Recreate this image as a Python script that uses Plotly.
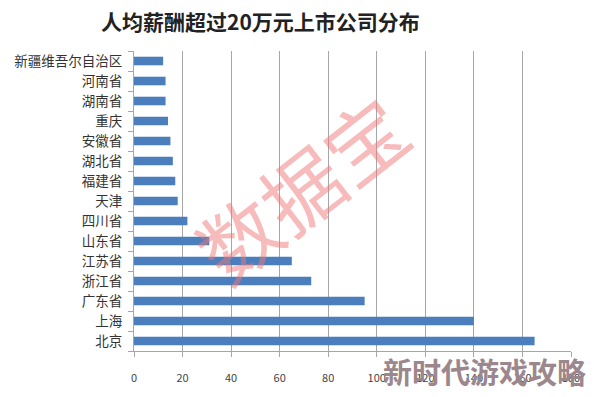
import plotly.graph_objects as go

provinces = ["北京", "上海", "广东省", "浙江省", "江苏省", "山东省", "四川省", "天津",
             "福建省", "湖北省", "安徽省", "重庆", "湖南省", "河南省", "新疆维吾尔自治区"]
counts = [165, 140, 95, 73, 65, 31, 22, 18, 17, 16, 15, 14, 13, 13, 12]
x_ticks = [0, 20, 40, 60, 80, 100, 120, 140, 160, 180]

title_text = "人均薪酬超过20万元上市公司分布"
font_cjk = "Noto Sans CJK SC"

L, R, T, B = 134, 23, 51, 44
W, H = 594, 397
plot_w = W - L - R
plot_h = H - T - B

def px_to_paper(px, py):
    return (px - L) / plot_w, (H - B - py) / plot_h

fig = go.Figure(go.Bar(
    x=counts, y=provinces, orientation="h",
    marker=dict(color="#4a7ebd", line=dict(width=0)),
    width=0.43,
))

tx, ty = px_to_paper(260, 21)
wx, wy = px_to_paper(300, 188)
bx, by = px_to_paper(484, 373)

fig.update_layout(
    width=W, height=H,
    margin=dict(l=L, r=R, t=T, b=B),
    paper_bgcolor="white", plot_bgcolor="white",
    showlegend=False,
    font=dict(family=font_cjk, color="#333333"),
    xaxis=dict(
        range=[0, 180], tickvals=x_ticks, ticktext=[str(v) for v in x_ticks],
        showgrid=True, gridcolor="#a6a6a6", gridwidth=1,
        showline=True, linecolor="#a6a6a6", linewidth=1,
        ticks="outside", ticklen=5, tickcolor="#a6a6a6",
        ticklabelstandoff=12,
        tickfont=dict(size=11, color="#444444", family=font_cjk),
        zeroline=False, fixedrange=True,
    ),
    yaxis=dict(
        type="category", categoryorder="array", categoryarray=provinces,
        showline=True, linecolor="#a6a6a6", linewidth=1,
        ticks="outside", ticklen=5, tickcolor="#a6a6a6", tickson="boundaries",
        ticklabelstandoff=8,
        tickfont=dict(size=13.5, color="#333333", family=font_cjk),
        showgrid=False, fixedrange=True,
    ),
    annotations=[
        dict(text="<b>" + title_text + "</b>", x=tx, y=ty, xref="paper", yref="paper",
             showarrow=False, font=dict(size=21, color="#222222", family=font_cjk),
             xanchor="center", yanchor="middle"),
        dict(text="数据宝", x=wx, y=wy, xref="paper", yref="paper", showarrow=False,
             textangle=-38, font=dict(size=80, color="rgba(240,120,120,0.5)", family=font_cjk),
             xanchor="center", yanchor="middle"),
        dict(text="<b>新时代游戏攻略</b>", x=bx, y=by, xref="paper", yref="paper", showarrow=False,
             font=dict(size=29, color="#9c878d", family=font_cjk),
             xanchor="center", yanchor="middle"),
    ],
)

fig.write_html("out.html")
